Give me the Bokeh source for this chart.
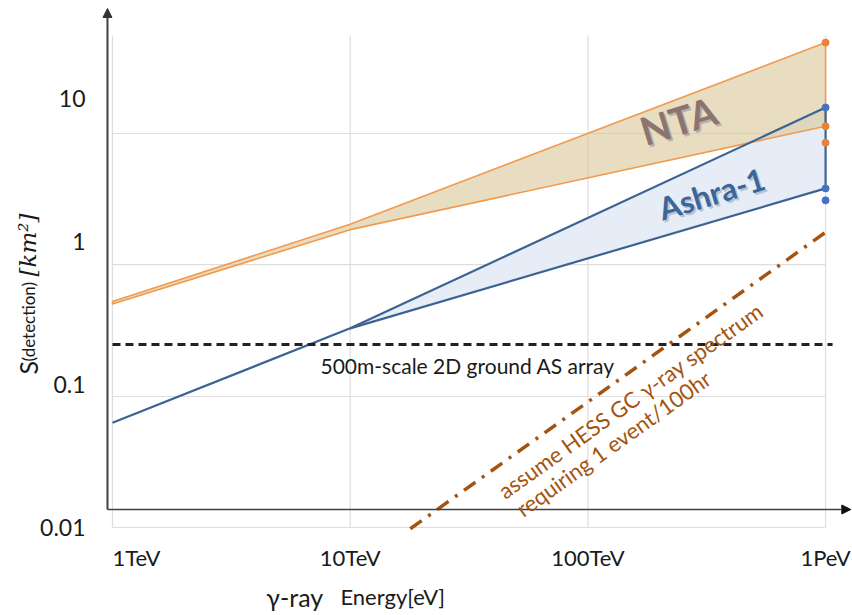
from bokeh.plotting import figure
from bokeh.models import Label, Arrow, NormalHead, Range1d
from bokeh.embed import file_html
from bokeh.resources import INLINE
import math

# ---------------- data ----------------
energy_tev = [1, 10, 1000]                 # 1TeV, 10TeV, 1PeV
nta_upper = [0.38, 1.32, 24.6]
nta_lower = [0.365, 1.21, 6.4]
ashra_upper = [0.054, 0.247, 8.65]
ashra_lower = [0.054, 0.247, 2.35]
pev_energy = 1000
nta_points_1pev = [24.6, 6.4, 4.9]
ashra_points_1pev = [8.65, 2.35, 1.94]

ground_array_energy = [1, 1070]
ground_array_level = [0.19, 0.19]

hess_energy = [17.9, 1000]
hess_area = [0.0098, 1.16]

x_ticks = [1, 10, 100, 1000]
x_tick_labels = ["1TeV", "10TeV", "100TeV", "1PeV"]
y_ticks = [0.01, 0.1, 1, 10]
y_tick_labels = ["0.01", "0.1", "1", "10"]

grid_x = [1, 10, 100, 1000]
grid_y = [0.01, 0.0824, 0.69, 5.69]
grid_y_extent = [0.01, 27.6]
grid_x_extent = [1, 1000]

# axis geometry (data units)
axis_origin = (0.9527, 0.01336)
axis_x_end = 1277
axis_y_end = 42.6
x_label_row = 0.00617      # level of the energy tick labels
y_label_col = 0.77         # right edge of the area tick labels

FONT = "Lato"
ORANGE = "#f29a4e"
BLUE = "#3d6393"
BROWN = "#a4540f"
TXT = "#1a1a1a"

p = figure(width=852, height=615, x_axis_type="log", y_axis_type="log",
           x_range=Range1d(0.338, 1298), y_range=Range1d(0.002424, 48.44),
           output_backend="svg", toolbar_location=None, title=None,
           min_border=0)
p.axis.visible = False
p.outline_line_color = None
p.background_fill_color = "white"
p.border_fill_color = "white"
p.grid.visible = False

# grid lines (light grey box grid)
for gx in grid_x:
    p.line([gx, gx], grid_y_extent, line_color="#dedede", line_width=1.2)
for gy in grid_y:
    p.line(grid_x_extent, [gy, gy], line_color="#dedede", line_width=1.2)

# filled regions
ash_x = [1, 10, 1000, 1000, 10]
ash_y = [ashra_upper[0], ashra_upper[1], ashra_upper[2], ashra_lower[2], ashra_lower[1]]
p.patch(ash_x, ash_y, fill_color="#e6edf7", fill_alpha=1.0, line_color=None)
nta_x = energy_tev + energy_tev[::-1]
nta_y = nta_upper + nta_lower[::-1]
p.patch(nta_x, nta_y, fill_color="#d9c796", fill_alpha=0.6, line_color=None)

# outlines
p.line(nta_x + [nta_x[0]], nta_y + [nta_y[0]], line_color=ORANGE, line_width=1.6)
p.line(energy_tev, ashra_upper, line_color=BLUE, line_width=2.2)
p.line(energy_tev[1:], ashra_lower[1:], line_color=BLUE, line_width=2.2)
p.line([pev_energy, pev_energy], [ashra_upper[2], ashra_lower[2]], line_color=BLUE, line_width=2.2)

p.scatter([pev_energy] * 3, nta_points_1pev, size=7, color="#e8843a")
p.scatter([pev_energy] * 3, ashra_points_1pev, size=7, color="#4472c4")

# ground array level
p.line(ground_array_energy, ground_array_level, line_color="#222222", line_width=3,
       line_dash="8 5")

# HESS GC spectrum requirement
p.line(hess_energy, hess_area, line_color=BROWN, line_width=3.5, line_dash="14 8 3 8")

# axis arrows
ox, oy = axis_origin
p.add_layout(Arrow(end=NormalHead(size=9, fill_color="#333333", line_color="#333333"),
                   x_start=ox, y_start=oy, x_end=ox, y_end=axis_y_end,
                   line_color="#404040", line_width=2))
p.add_layout(Arrow(end=NormalHead(size=9, fill_color="#111111", line_color="#111111"),
                   x_start=ox, y_start=oy, x_end=axis_x_end, y_end=oy,
                   line_color="#404040", line_width=1.6))

# texts
def lab(x, y, text, size, color=TXT, angle=0.0, align="left",
        baseline="middle", style="normal", font=FONT, dx=0, dy=0):
    p.add_layout(Label(x=x, y=y, text=text, text_font=font, text_font_size=size,
                       text_color=color, angle=angle, text_align=align,
                       text_baseline=baseline, text_font_style=style,
                       x_offset=dx, y_offset=dy))

# tick labels
x_aligns = ["left", "center", "center", "center"]
for t, l, a in zip(x_ticks, x_tick_labels, x_aligns):
    lab(t, x_label_row, l, "22px", align=a)
for t, l in zip(y_ticks, y_tick_labels):
    lab(y_label_col, t, l, "23px", align="right")

lab(7.5, 0.136, "500m-scale 2D ground AS array", "21px")

ang = math.radians(35.5)
lab(151, 0.0773, "assume HESS GC γ-ray spectrum", "22px", color=BROWN, angle=ang, align="center")
lab(128, 0.0387, "requiring 1 event/100hr", "22px", color=BROWN, angle=ang, align="center")

ang2 = math.radians(17)
lab(240, 7.02, "NTA", "39px", color="#b8b0aa", angle=ang2, align="center", style="bold", dx=2, dy=-2)
lab(240, 7.02, "NTA", "39px", color="#8c7470", angle=ang2, align="center", style="bold")
lab(331, 2.17, "Ashra-1", "31px", color="#b9c3cf", angle=ang2, align="center", style="bold", dx=2, dy=-2)
lab(331, 2.17, "Ashra-1", "31px", color="#3b6699", angle=ang2, align="center", style="bold")

# axis titles
lab(4.44, 0.00329, "γ-ray", "25px", baseline="alphabetic")
lab(9.10, 0.00329, "Energy[eV]", "22px", baseline="alphabetic")

vert = math.pi / 2
lab(0.443, 0.1175, "S", "25px", angle=vert, baseline="alphabetic")
lab(0.443, 0.145, "(detection)", "17px", angle=vert, baseline="alphabetic")
lab(0.443, 0.569, "[km²]", "23px", angle=vert, baseline="alphabetic",
    style="italic", font="DejaVu Serif")

open("out.html", "w").write(file_html(p, INLINE))
